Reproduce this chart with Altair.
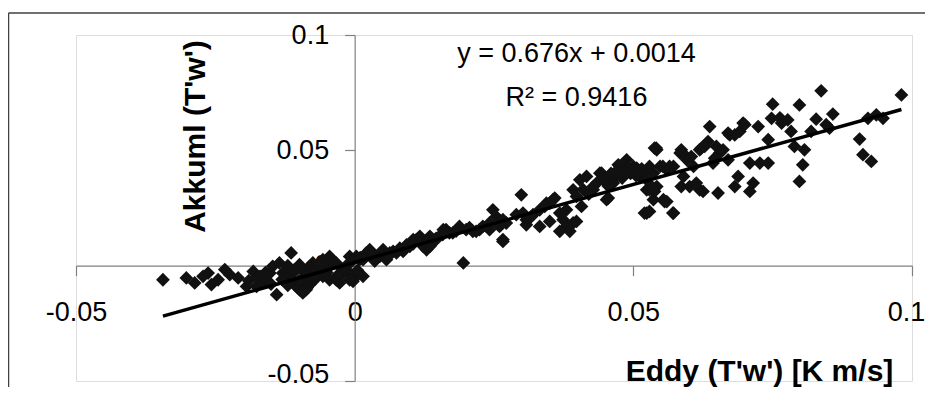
import altair as alt
import pandas as pd

# ---- data ----
eddy = [
    -.0344, -.0302, -.0287, -.0272, -.0263, -.0257, -.0245, -.0233, -.0224, -.0209, -.0194, -.0182, -.0170, -.0161,
    -.0140, -.0114, -.0147, -.0135, -.0129, -.0117, -.0105, -.0096, -.0087, -.0099, -.0081, -.0069, -.0057, -.0045,
    -.0033, -.0021, -.0009, .0009, .0021, .0027, .0045, .0057, .0003, .0015, -.0009, -.0027, -.0045, -.0057, -.0072,
    -.0087, -.0105, -.0003,
    .0075, .0087, .0099, .0111, .0123, .0129, .0140, .0152, .0164, .0176, .0188, .0200, .0212, .0195,
    -.0123, -.0111, -.0099, -.0087, -.0075, -.0069, -.0045, -.0033, -.0021, -.0009, .0003, .0015, .0039, .0051,
    .0063, .0105, .0117, .0135, -.0099, -.0093, -.0009, -.0164, -.0176, -.0152,
    .0266, .0224, .0170, .0159, .0135, .0117, .0087,
    .0242, .0254, .0272, .0290, .0308, .0320, .0332, .0344, .0356, .0368, .0374, .0380, .0392, .0398, .0386,
    .0368, .0350, .0332, .0308,
    .0392, .0404, .0416, .0428, .0440, .0452, .0464, .0476, .0488, .0500, .0512, .0524, .0536, .0548, .0560,
    .0572, .0584, .0596, .0608, .0542, .0524, .0536, .0554, .0572, .0524, .0542,
    .0299, .0302, .0317, .0266, .0260, .0248, .0242, .0266, .0218,
    .0359, .0350, .0341, .0398, .0407, .0380,
    .0443, .0428, .0464, .0452, .0455,
    .0494, .0506, .0482, .0473, .0517, .0529,
    .0538, .0533, .0538, .0560, .0520,
    .0837, .0981, .0750, .0798, .0858, .0828, .0637, .0673, .0691, .0697, .0724, .0748, .0766, .0777, .0783,
    .0789, .0807, .0804, .0798, .0819, .0852, .0921, .0936, .0948, .0906, .0912, .0927,
    .0541, .0529, .0553, .0565, .0586, .0595, .0604, .0622, .0634, .0649, .0655, .0643, .0670, .0709, .0727,
    .0742, .0742, .0590, .0586, .0601, .0619, .0613, .0625, .0652, .0688, .0682, .0715, .0709, .0556, .0571,
    .0529, .0529,
    .0763, .0846, .0700, .0682, .0670, .0628, .0619, .0646, .0661,
    .0010, .0033, .0069, .0081, .0093, .0105, .0128, .0146, .0158, .0182, .0206, .0230, .0036, .0060, .0120,
    -.0190, -.0175, -.0160, -.0150, -.0130, -.0120, -.0110, -.0090, -.0080, -.0070, -.0060, -.0050, -.0040,
    -.0030, -.0015, -.0005, .0005, -.0120, -.0100, -.0085,
    .0410, .0420, .0435, .0448, .0460, .0470, .0480, .0495, .0505, .0515, .0470, .0455,
]
akkuml = [
    -.0061, -.0053, -.0075, -.0046, -.0032, -.0082, -.0061, -.0017, -.0039, -.0053, -.0090, -.0025, -.0046, -.0068,
    -.0126, .0055, -.0003, .0012, -.0032, -.0046, -.0017, -.0075, -.0104, .0004, -.0003, -.0017, .0026, .0040,
    .0012, -.0017, .0040, .0026, .0055, .0069, .0040, .0026, -.0046, -.0046, -.0032, -.0075, -.0061, -.0046, -.0061,
    -.0061, -.0090, -.0068,
    .0055, .0069, .0084, .0113, .0084, .0069, .0098, .0127, .0156, .0142, .0170, .0156, .0149, .0012,
    -.0032, -.0061, -.0003, -.0046, .0012, -.0032, -.0003, -.0061, -.0032, .0012, .0040, .0026, .0040, .0069,
    .0055, .0113, .0127, .0127, -.0104, -.0118, -.0061, -.0061, -.0090, -.0032,
    .0113, .0156, .0142, .0156, .0084, .0113, .0062,
    .0185, .0213, .0185, .0221, .0199, .0221, .0242, .0271, .0286, .0228, .0199, .0170, .0185, .0192, .0149,
    .0149, .0192, .0170, .0177,
    .0329, .0372, .0387, .0329, .0401, .0286, .0358, .0430, .0459, .0430, .0387, .0372, .0401, .0430, .0416,
    .0430, .0488, .0459, .0430, .0502, .0329, .0286, .0286, .0228, .0228, .0343,
    .0307, .0228, .0213, .0199, .0170, .0242, .0156, .0105, .0149,
    .0293, .0271, .0257, .0300, .0257, .0242,
    .0401, .0343, .0372, .0358, .0293,
    .0416, .0423, .0416, .0437, .0408, .0416,
    .0510, .0343, .0322, .0278, .0228,
    .0758, .0740, .0700, .0697, .0657, .0635, .0603, .0567, .0582, .0618, .0603, .0639, .0618, .0632, .0582,
    .0517, .0502, .0437, .0365, .0582, .0596, .0639, .0654, .0639, .0549, .0481, .0452,
    .0510, .0430, .0430, .0430, .0502, .0473, .0473, .0510, .0538, .0517, .0488, .0445, .0459, .0445, .0445,
    .0445, .0546, .0387, .0343, .0343, .0329, .0358, .0322, .0315, .0387, .0343, .0358, .0322, .0278, .0228,
    .0235, .0329,
    .0641, .0611, .0611, .0567, .0575, .0517, .0502, .0466, .0502,
    .0035, .0048, .0062, .0076, .0090, .0095, .0105, .0118, .0135, .0150, .0165, .0170, .0020, .0040, .0100,
    -.0065, -.0050, -.0030, -.0080, -.0060, -.0085, -.0020, -.0030, -.0080, -.0050, -.0010, -.0030, .0020,
    -.0040, .0000, .0020, -.0020, .0000, -.0065, -.0095,
    .0330, .0310, .0360, .0380, .0400, .0395, .0380, .0400, .0390, .0420, .0410, .0345,
]

slope = 0.676
intercept = 0.0014
eq_lines = ["y = 0.676x + 0.0014", "R\u00b2 = 0.9416"]

x_ticks = [-0.05, 0, 0.05, 0.1]
y_ticks = [-0.05, 0, 0.05, 0.1]
x_title = "Eddy (T'w') [K m/s]"
y_title = "Akkuml (T'w')"

# ---- tables ----
pts = pd.DataFrame({"x": eddy, "y": akkuml})
xmin, xmax = min(eddy), max(eddy)
trend = pd.DataFrame({"x": [xmin, xmax],
                      "y": [slope * xmin + intercept, slope * xmax + intercept]})
eq = pd.DataFrame({"x": [0.0398, 0.0398], "y": [0.0883, 0.0693], "t": eq_lines})
one = pd.DataFrame({"a": [0]})

W, H = 836, 346
FONT = "Liberation Sans"
lab = "datum.value < 0 ? '-' + format(-datum.value, '~g') : format(datum.value, '~g')"

xs = alt.Scale(domain=[-0.05, 0.1], nice=False, zero=False)
ys = alt.Scale(domain=[-0.05, 0.1], nice=False, zero=False)

x_axis = alt.Axis(values=x_ticks, labelExpr=lab, grid=False, offset=-H / 3,
                  domainColor="#808080", domainWidth=1.2, tickColor="#808080", tickWidth=1.2,
                  tickSize=10, labelFont=FONT, labelFontSize=27, labelColor="#000",
                  labelPadding=24, labelFlush=False, labelOverlap=False,
                  labelOffset={"condition": {"test": "datum.value > 0.09", "value": -6}, "value": 0},
                  title=x_title, titleFont=FONT, titleFontSize=30, titleFontWeight="bold",
                  titleColor="#000", titleX=683, titleY=115, titleAlign="center",
                  titleBaseline="alphabetic")
y_axis = alt.Axis(values=y_ticks, labelExpr=lab, grid=False, offset=-W / 3,
                  domainColor="#808080", domainWidth=1.2, tickColor="#808080", tickWidth=1.2,
                  tickSize=10, labelFont=FONT, labelFontSize=27, labelColor="#000",
                  labelPadding=16, labelFlush=False, labelOverlap=False,
                  labelOffset={"condition": {"test": "datum.value < -0.04", "value": -7}, "value": 0},
                  title=y_title, titleFont=FONT, titleFontSize=30, titleFontWeight="bold",
                  titleColor="#000", titleX=-159, titleY=101, titleAlign="center",
                  titleBaseline="middle", titleAngle=270)

points = alt.Chart(pts).mark_point(shape="diamond", filled=True, size=190, color="#111111",
                                   opacity=1, strokeWidth=0).encode(
    x=alt.X("x:Q", scale=xs, axis=x_axis),
    y=alt.Y("y:Q", scale=ys, axis=y_axis),
)

line = alt.Chart(trend).mark_line(color="#000000", strokeWidth=3.5).encode(
    x=alt.X("x:Q", scale=xs), y=alt.Y("y:Q", scale=ys))

text = alt.Chart(eq).mark_text(font=FONT, fontSize=27, color="#000", align="center",
                               baseline="alphabetic").encode(
    x=alt.X("x:Q", scale=xs), y=alt.Y("y:Q", scale=ys), text="t:N")

border_top = alt.Chart(one).mark_rule(color="#404040", strokeWidth=1.5).encode(
    x=alt.value(-67.5), x2=alt.value(880), y=alt.value(-22))
border_left = alt.Chart(one).mark_rule(color="#404040", strokeWidth=1.5).encode(
    x=alt.value(-67.5), y=alt.value(-22), y2=alt.value(400))

chart = alt.layer(border_top, border_left, points, line, text).properties(
    width=W, height=H,
    autosize=alt.AutoSizeParams(type="none"),
    padding={"left": 68, "top": 27, "right": 13, "bottom": 6},
).configure_view(strokeWidth=0).configure(background="white")

chart.save("out.html", embed_options={"renderer": "svg", "actions": False})
